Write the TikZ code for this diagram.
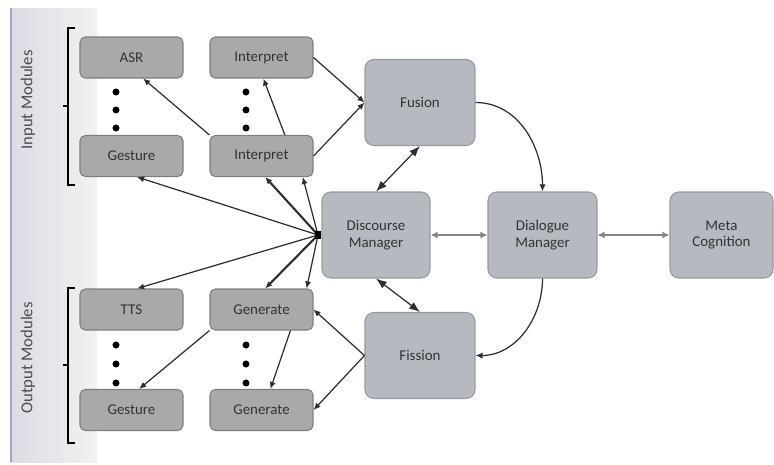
\documentclass[tikz,border=0pt]{standalone}
\usepackage{fontspec}
\setmainfont{Carlito}
\usetikzlibrary{arrows.meta}
\definecolor{smallfill}{HTML}{A9A9A9}
\definecolor{smallline}{HTML}{7E7E7E}
\definecolor{bigfill}{HTML}{B7B9C1}
\definecolor{bigline}{HTML}{989AA2}
\definecolor{txt}{HTML}{333333}
\definecolor{wire}{HTML}{2E2E2E}
\begin{document}
\begin{tikzpicture}[x=0.02cm, y=-0.02cm, font=\fontsize{8.5}{9.5}\selectfont, text=txt,
    s/.style={rectangle, rounded corners=3pt, draw=smallline, fill=smallfill, line width=0.6pt,
              minimum width=2.06cm, minimum height=0.82cm, inner sep=1pt},
    b/.style={rectangle, rounded corners=5pt, draw=bigline, fill=bigfill, line width=0.6pt,
              minimum height=1.72cm, align=center, inner sep=1pt},
    w/.style={draw=wire, line width=0.7pt, -{Latex[length=4pt,width=3.5pt]}},
    ww/.style={w, Latex-Latex},
    g/.style={draw=gray!95, line width=1.3pt, {Latex[length=4pt,width=4pt]}-{Latex[length=4pt,width=4pt]}},
    dot/.style={circle, fill=black, inner sep=0pt, minimum size=4pt}]
    \useasboundingbox (0,0) rectangle (774,464);

    % side panel
    \shade[left color=blue!12!gray!25, right color=gray!10] (10,8) rectangle (97,462);
    \draw[blue!30!gray!55, line width=1pt] (11,8) -- (11,462);
    \node[rotate=90, text=gray!60!black, font=\fontsize{9.5}{11}\selectfont] (inlbl) at (28,100) {Input Modules};
    \node[rotate=90, text=gray!60!black, font=\fontsize{9.5}{11}\selectfont] (outlbl) at (28,358) {Output Modules};

    % brackets
    \draw[line width=1pt] (75,28) -- (68,28) -- (68,185) -- (75,185) (68,106) -- (63,106);
    \draw[line width=1pt] (75,288) -- (68,288) -- (68,443) -- (75,443) (68,365) -- (63,365);

    % modules
    \node[s] (asr) at (131.5,57.5) {ASR};
    \node[s] (interpA) at (261.5,57.5) {Interpret};
    \node[s] (gestIn) at (131.5,156) {Gesture};
    \node[s] (interpB) at (261.5,156) {Interpret};
    \node[s] (tts) at (131.5,309.5) {TTS};
    \node[s] (genA) at (261.5,309.5) {Generate};
    \node[s] (gestOut) at (131.5,410) {Gesture};
    \node[s] (genB) at (261.5,410) {Generate};

    \foreach \x in {116,246} {
        \foreach \y in {92,110,128,345,364,383}
            \node[dot] at (\x,\y) {};
    }

    \node[b, minimum width=2.2cm] (fusion) at (420,102.5) {Fusion};
    \node[b, minimum width=2.16cm] (discourse) at (376,235) {Discourse\\Manager};
    \node[b, minimum width=2.18cm] (dialogue) at (542.5,235) {Dialogue\\Manager};
    \node[b, minimum width=2.06cm] (meta) at (721.5,235) {Meta\\Cognition};
    \node[b, minimum width=2.2cm] (fission) at (420,355.5) {Fission};

    \coordinate (hub) at (318,235);

    % input side
    \draw[w] (interpB.north west) -- (asr.-61);
    \draw[w] (interpB.42) -- (interpA.-85);
    \draw[w] (interpA.east) -- (fusion.west);
    \draw[w] (interpB.east) -- (fusion.west);
    \draw[ww] (fusion.south) -- (discourse.north);
    \draw[w] (fusion.east) to[out=0, in=90] (dialogue.north);

    % hub fan
    \draw[w] (hub) -- (gestIn.-75);
    \draw[w, line width=1.2pt] (hub) -- (interpB.-80);
    \draw[w] (hub) -- (interpB.-27);
    \draw[w] (hub) -- (tts.75);
    \draw[w, line width=1.2pt] (hub) -- (genA.80);
    \draw[w] (hub) -- (genA.25);
    \fill (hub) ++(-3,-4) rectangle ++(6,8);

    % centre row
    \draw[g] (discourse.east) -- (dialogue.west);
    \draw[g] (dialogue.east) -- (meta.west);

    % output side
    \draw[ww] (discourse.south) -- (fission.north);
    \draw[w] (dialogue.south) to[out=-90, in=0] (fission.east);
    \draw[w] (fission.west) -- (genA.east);
    \draw[w] (fission.west) -- (genB.east);
    \draw[w] (genA.south west) -- (gestOut.70);
    \draw[w] (genA.-36) -- (genB.67);
\end{tikzpicture}
\end{document}
